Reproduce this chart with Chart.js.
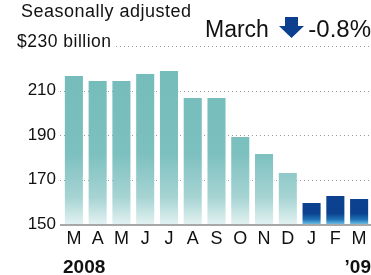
<!DOCTYPE html>
<html>
<head>
<meta charset="utf-8">
<script src="https://cdn.jsdelivr.net/npm/chart.js@4/dist/chart.umd.min.js"></script>
<style>
  html, body { margin: 0; padding: 0; background: #fff; }
  #wrap { position: relative; width: 371px; height: 275px; }
</style>
</head>
<body>
<div id="wrap"><canvas id="salesChart"></canvas></div>
<script>
// data ($ billion, seasonally adjusted)
const months = ['M', 'A', 'M', 'J', 'J', 'A', 'S', 'O', 'N', 'D', 'J', 'F', 'M'];
const years = ['2008', '2008', '2008', '2008', '2008', '2008', '2008', '2008', '2008', '2008', '2009', '2009', '2009'];
const sales = [216.5, 214.3, 214.3, 217.4, 218.8, 206.6, 206.6, 189.1, 181.5, 172.9, 159.4, 162.6, 161.2];
const yTicks = [150, 170, 190, 210, 230];
const headMonth = 'March';
const headChange = '-0.8%';

const FONT = "'Liberation Sans', Arial, Helvetica, sans-serif";

function barColor(ctx) {
    const chart = ctx.chart;
    const area = chart.chartArea;
    if (!area) return '#74bcbb';
    const c = chart.ctx;
    const g = c.createLinearGradient(0, area.top, 0, area.bottom);
    if (years[ctx.dataIndex] === '2009') {
        g.addColorStop(0, '#0b3f8e');
        g.addColorStop(0.94, '#0b418f');
        g.addColorStop(0.975, '#1f72b6');
        g.addColorStop(1, '#6cbde3');
    } else {
        g.addColorStop(0, '#72bbba');
        g.addColorStop(0.6, '#7cc0bf');
        g.addColorStop(0.85, '#a6d4d3');
        g.addColorStop(1, '#e2f1f1');
    }
    return g;
}

// dotted guide lines + the solid base line
const guides = {
    id: 'guides',
    beforeDatasetsDraw(chart) {
        const { ctx, chartArea, scales } = chart;
        ctx.save();
        ctx.strokeStyle = '#9a9a9a';
        ctx.lineWidth = 1;
        ctx.setLineDash([1, 3]);
        yTicks.forEach(v => {
            if (v === yTicks[0]) return;
            const y = Math.round(scales.y.getPixelForValue(v)) + 0.5;
            const x0 = v === 230 ? 116 : chartArea.left - 2;
            ctx.beginPath();
            ctx.moveTo(x0, y);
            ctx.lineTo(chartArea.right, y);
            ctx.stroke();
        });
        ctx.restore();
    },
    afterDatasetsDraw(chart) {
        const { ctx, chartArea, scales } = chart;
        const y = scales.y.getPixelForValue(yTicks[0]) + 1;
        ctx.save();
        ctx.strokeStyle = '#a8a8a8';
        ctx.lineWidth = 2;
        ctx.beginPath();
        ctx.moveTo(60, y);
        ctx.lineTo(chartArea.right, y);
        ctx.stroke();
        ctx.restore();
    }
};

// header texts, arrow and year labels
const header = {
    id: 'header',
    afterDraw(chart) {
        const ctx = chart.ctx;
        const w = chart.width;
        ctx.save();
        ctx.fillStyle = '#111';
        ctx.textBaseline = 'alphabetic';
        ctx.letterSpacing = '0.5px';
        ctx.font = '18px ' + FONT;
        ctx.textAlign = 'left';
        ctx.fillText('Seasonally adjusted', 21, 17);
        ctx.font = '17.5px ' + FONT;
        ctx.fillText('$230 billion', 17, 47);
        ctx.letterSpacing = '0px';

        ctx.font = '23px ' + FONT;
        ctx.fillText(headMonth, 205, 37);
        ctx.textAlign = 'right';
        ctx.font = '24px ' + FONT;
        ctx.fillText(headChange, w, 37);

        // down arrow
        ctx.fillStyle = '#0d3f8f';
        ctx.beginPath();
        ctx.moveTo(285, 17);
        ctx.lineTo(298, 17);
        ctx.lineTo(298, 26);
        ctx.lineTo(304, 26);
        ctx.lineTo(291.5, 38);
        ctx.lineTo(279, 26);
        ctx.lineTo(285, 26);
        ctx.closePath();
        ctx.fill();

        ctx.fillStyle = '#111';
        ctx.font = 'bold 19px ' + FONT;
        ctx.textAlign = 'left';
        ctx.fillText(years[0], 63, 273);
        ctx.textAlign = 'right';
        ctx.fillText('\u2019' + years[years.length - 1].slice(2), w, 273);
        ctx.restore();
    }
};

new Chart(document.getElementById('salesChart'), {
    type: 'bar',
    data: {
        labels: months,
        datasets: [{
            data: sales,
            backgroundColor: barColor,
            borderWidth: 0,
            barPercentage: 0.76,
            categoryPercentage: 1
        }]
    },
    options: {
        responsive: true,
        maintainAspectRatio: false,
        animation: false,
        events: [],
        layout: { padding: { top: 46, left: 0, right: 0, bottom: 0 } },
        plugins: { legend: { display: false }, tooltip: { enabled: false } },
        scales: {
            x: {
                grid: { display: false, drawTicks: false },
                border: { display: false },
                ticks: {
                    color: '#111',
                    font: { family: FONT, size: 18 },
                    padding: 4,
                    maxRotation: 0,
                    autoSkip: false
                },
                afterFit(scale) { scale.height = 51; }
            },
            y: {
                min: 150,
                max: 230,
                grid: { display: false, drawTicks: false },
                border: { display: false },
                afterBuildTicks(scale) { scale.ticks = yTicks.map(v => ({ value: v })); },
                ticks: {
                    color: '#111',
                    font: { family: FONT, size: 17 },
                    padding: 6,
                    callback: v => (v === 230 ? '' : v)
                },
                afterFit(scale) { scale.width = 62; }
            }
        }
    },
    plugins: [guides, header]
});
</script>
</body>
</html>
